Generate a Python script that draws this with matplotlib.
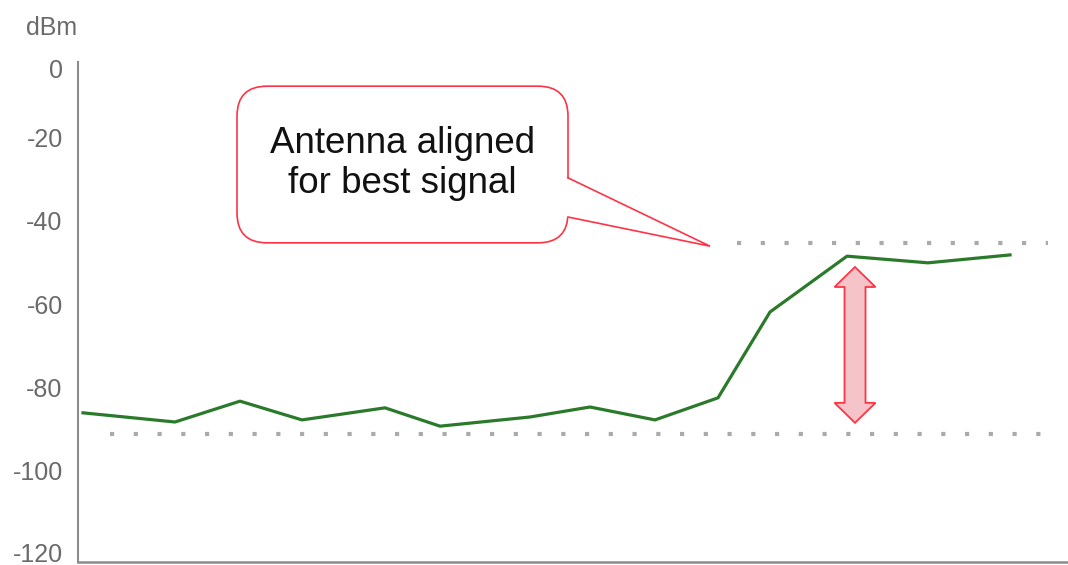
import matplotlib
matplotlib.use("Agg")
import matplotlib.pyplot as plt
from matplotlib.patches import FancyBboxPatch, Polygon
from matplotlib.transforms import ScaledTranslation

plt.rcParams['font.family'] = ['Liberation Sans', 'DejaVu Sans']

# Signal strength readings (time offset, dBm)
t_samples = [5, 97, 162, 224, 307, 362, 452, 512, 577, 640, 692, 769, 850, 932]
signal_dbm = [-84.2, -86.4, -81.4, -85.9, -83.0, -87.4, -85.2, -82.8, -85.9,
              -80.6, -60.0, -46.6, -48.2, -46.3]

# Reference levels before and after alignment
baseline_level = -89.3
aligned_level = -43.4
baseline_span = (32, 972)
aligned_span = (659, 970)

y_ticks = [0, -20, -40, -60, -80, -100, -120]
y_tick_labels = ["0", "-20", "-40", "-60", "-80", "-100", "-120"]

callout_text = "Antenna aligned\nfor best signal"
callout_box = (159, 490, -43.4, -5.8)      # x0, x1, y0, y1
callout_tip = (632, -44.2)
callout_neck = (-27.8, -37.2)               # where the pointer leaves the box

gain_arrow_x = 777
gain_arrow_top = -49.2
gain_arrow_bottom = -86.6

W, H, DPI = 1068, 565, 100
fig = plt.figure(figsize=(W / DPI, H / DPI), dpi=DPI)
ax = fig.add_axes([78 / W, 1 - 562 / H, 1 - 78 / W, (562 - 62) / H])
ax.set_xlim(0, 990)
ax.set_ylim(-120, 0)

px_per_x = 1.0
px_per_y = 500 / 120

for side in ("top", "right"):
    ax.spines[side].set_visible(False)
ax.spines["left"].set_color("#8c8c8c")
ax.spines["left"].set_linewidth(1.5)
ax.spines["bottom"].set_color("#8c8c8c")
ax.spines["bottom"].set_linewidth(1.8)

ax.set_xticks([])
ax.set_yticks(y_ticks)
ax.set_yticklabels(y_tick_labels, fontsize=18, color="#6a6a6a")
ax.tick_params(axis="y", length=0, pad=11)
for val, lab in zip(y_ticks, ax.get_yticklabels()):
    if val == 0:
        dy = -0.06
    elif val == -120:
        dy = 0.1
    else:
        dy = 0.08
    lab.set_transform(lab.get_transform() + ScaledTranslation(0, dy, fig.dpi_scale_trans))

fig.text(26 / W, 1 - 28 / H, "dBm", fontsize=18, color="#6a6a6a",
         ha="left", va="center")

# dotted reference levels
dot_style = dict(color="#aaaaaa", linewidth=3.0, linestyle=(0, (1, 4.7)),
                 dash_capstyle="butt")
ax.plot(baseline_span, [baseline_level, baseline_level], **dot_style)
ax.plot(aligned_span, [aligned_level, aligned_level], **dot_style)

# signal trace
ax.plot(t_samples, signal_dbm, color="#2b7a2b", linewidth=2.3,
        solid_joinstyle="round", zorder=3)

# double-headed gain arrow
shaft_half = 10.5 / px_per_x
head_half = 20.5 / px_per_x
head_len = 20 / px_per_y
cx = gain_arrow_x
pts = [
    (cx, gain_arrow_top),
    (cx + head_half, gain_arrow_top - head_len),
    (cx + shaft_half, gain_arrow_top - head_len),
    (cx + shaft_half, gain_arrow_bottom + head_len),
    (cx + head_half, gain_arrow_bottom + head_len),
    (cx, gain_arrow_bottom),
    (cx - head_half, gain_arrow_bottom + head_len),
    (cx - shaft_half, gain_arrow_bottom + head_len),
    (cx - shaft_half, gain_arrow_top - head_len),
    (cx - head_half, gain_arrow_top - head_len),
]
ax.add_patch(Polygon(pts, closed=True, facecolor="#f5c4c8", edgecolor="#ff3347",
                     linewidth=1.3, zorder=4))

# speech-bubble callout
bx0, bx1, by0, by1 = callout_box
red = "#ff3347"
box = FancyBboxPatch((bx0, by0), bx1 - bx0, by1 - by0,
                     boxstyle="round,pad=0,rounding_size=30",
                     mutation_aspect=1 / px_per_y,
                     facecolor="white", edgecolor=red, linewidth=1.2, zorder=5)
ax.add_patch(box)
n_hi, n_lo = callout_neck
ax.add_patch(Polygon([(bx1 - 2, n_hi), callout_tip, (bx1 - 2, n_lo)], closed=True,
                     facecolor="white", edgecolor="none", zorder=6))
ax.plot([bx1, callout_tip[0], bx1], [n_hi, callout_tip[1], n_lo],
        color=red, linewidth=1.2, zorder=7, solid_joinstyle="miter")
ax.text((bx0 + bx1) / 2, (by0 + by1) / 2 + 0.3, callout_text, fontsize=26.5,
        color="#111111", ha="center", va="center", linespacing=1.18, zorder=8)

fig.savefig("out.png", dpi=DPI)
